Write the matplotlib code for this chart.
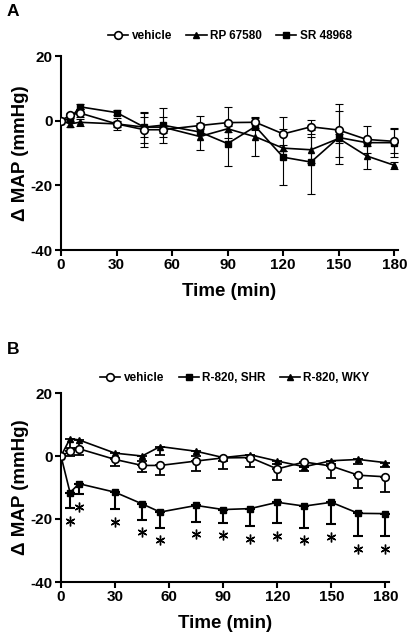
import matplotlib
matplotlib.use("Agg")
import matplotlib.pyplot as plt
import numpy as np

plt.rcParams['font.family'] = ['Liberation Sans', 'DejaVu Sans']
plt.rcParams['font.weight'] = 'bold'
plt.rcParams['axes.unicode_minus'] = False

time = [0, 5, 10, 30, 45, 55, 75, 90, 105, 120, 135, 150, 165, 180]
xticks = [0, 30, 60, 90, 120, 150, 180]
yticks = [20, 0, -20, -40]

# Panel A
a_vehicle = [0, 1.7, 2.4, -1.0, -2.8, -2.8, -1.5, -0.6, -0.5, -4.1, -1.9, -2.9, -5.8, -6.4]
a_vehicle_err = [0, 0.8, 1.2, 1.8, 5.2, 1.0, 2.9, 4.7, 1.7, 5.2, 2.2, 8.2, 4.3, 3.7]
a_rp = [0, -1.0, -0.5, -1.0, -2.0, -2.0, -4.9, -2.5, -5.0, -8.5, -9.0, -5.5, -10.9, -13.8]
a_rp_err = [0, 1.0, 1.0, 1.0, 3.0, 3.2, 4.1, 1.0, 5.8, 1.0, 4.0, 1.5, 4.1, 1.0]
a_sr = [0, 0.5, 4.3, 2.5, -2.0, -1.4, -3.5, -7.1, -1.8, -11.3, -12.8, -5.2, -6.8, -6.8]
a_sr_err = [0, 0.8, 0.8, 0.8, 4.8, 5.4, 1.0, 6.8, 1.0, 8.6, 9.8, 8.1, 1.0, 4.4]

# Panel B
b_vehicle = [0, 1.5, 2.3, -1.1, -3.0, -3.0, -1.6, -0.6, -0.5, -4.1, -1.9, -3.2, -6.1, -6.6]
b_vehicle_err = [0, 1.5, 2.0, 2.0, 2.2, 3.0, 3.3, 3.4, 3.0, 3.6, 1.5, 3.8, 4.1, 4.8]
b_shr = [0, -11.6, -8.8, -11.5, -15.2, -17.8, -15.7, -17.0, -16.7, -14.7, -15.9, -14.7, -18.2, -18.3]
b_shr_err = [0, 5.0, 3.4, 5.4, 5.0, 5.0, 5.2, 4.2, 5.6, 6.7, 6.9, 6.9, 7.2, 7.1]
b_wky = [0, 5.5, 5.1, 0.9, 0.0, 3.0, 1.5, -0.5, 0.4, -1.6, -3.4, -1.5, -1.1, -2.1]
b_wky_err = [0, 3.0, 2.5, 1.5, 1.5, 2.7, 1.5, 1.0, 1.0, 1.0, 1.5, 1.0, 1.5, 1.5]
star_times = [5, 10, 30, 45, 55, 75, 90, 105, 120, 135, 150, 165, 180]

W, H = 411, 640
fig = plt.figure(figsize=(W / 100, H / 100), dpi=100)

def px_axes(l, r, t, b):
    return fig.add_axes([l / W, 1 - b / H, (r - l) / W, (b - t) / H])

axA = px_axes(61, 398, 56, 250)
axB = px_axes(61, 389, 393, 582)

def style(ax):
    ax.set_xlim(0, 182)
    ax.set_ylim(-40, 20)
    ax.set_xticks(xticks)
    ax.set_yticks(yticks)
    ax.spines['top'].set_visible(False)
    ax.spines['right'].set_visible(False)
    for s in ('left', 'bottom'):
        ax.spines[s].set_linewidth(1.5)
    ax.tick_params(direction='out', length=4, width=1.5, labelsize=11, pad=2)
    for lab in ax.get_xticklabels() + ax.get_yticklabels():
        lab.set_fontweight('bold')
    ax.set_xlabel('Time (min)', fontsize=13.5, fontweight='bold', labelpad=8)
    ax.set_ylabel('Δ MAP (mmHg)', fontsize=13.5, fontweight='bold', labelpad=1)
    ax.patch.set_alpha(0)

style(axA)
style(axB)

lw = 1.2
# Panel A
axA.errorbar(time, a_sr, yerr=a_sr_err, fmt='none', ecolor='black', elinewidth=0.8, capsize=3, capthick=0.8, zorder=2)
axA.errorbar(time, a_rp, yerr=a_rp_err, fmt='none', ecolor='black', elinewidth=0.8, capsize=3, capthick=0.8, zorder=2)
axA.errorbar(time, a_vehicle, yerr=a_vehicle_err, fmt='none', ecolor='black', elinewidth=0.8, capsize=3, capthick=0.8, zorder=2)
lA1, = axA.plot(time, a_vehicle, '-', color='black', lw=lw, marker='o', ms=5.5, mfc='white', mec='black', mew=1.2, zorder=5, label='vehicle')
lA2, = axA.plot(time, a_rp, '-', color='black', lw=lw, marker='^', ms=4.5, mfc='black', mec='black', zorder=4, label='RP 67580')
lA3, = axA.plot(time, a_sr, '-', color='black', lw=lw, marker='s', ms=4.5, mfc='black', mec='black', zorder=4, label='SR 48968')
fig.legend(handles=[lA1, lA2, lA3], loc='center', bbox_to_anchor=(230 / W, 1 - 36 / H), ncol=3,
           frameon=False, handlelength=1.7, handletextpad=0.3, columnspacing=1.2,
           prop={'weight': 'bold', 'size': 8.5})

# Panel B
lower = lambda err: [np.array(err), np.zeros(len(err))]
axB.errorbar(time, b_shr, yerr=lower(b_shr_err), fmt='none', ecolor='black', elinewidth=1.5, capsize=3.5, capthick=1.5, zorder=2)
axB.errorbar(time, b_vehicle, yerr=lower(b_vehicle_err), fmt='none', ecolor='black', elinewidth=1.3, capsize=3.5, capthick=1.3, zorder=2)
axB.errorbar(time, b_wky, yerr=lower(b_wky_err), fmt='none', ecolor='black', elinewidth=1.3, capsize=3.5, capthick=1.3, zorder=2)
lB1, = axB.plot(time, b_vehicle, '-', color='black', lw=lw, marker='o', ms=5.5, mfc='white', mec='black', mew=1.2, zorder=5, label='vehicle')
lB2, = axB.plot(time, b_shr, '-', color='black', lw=lw, marker='s', ms=4.5, mfc='black', mec='black', zorder=4, label='R-820, SHR')
lB3, = axB.plot(time, b_wky, '-', color='black', lw=lw, marker='^', ms=4.5, mfc='black', mec='black', zorder=4, label='R-820, WKY')
fig.legend(handles=[lB1, lB2, lB3], loc='center', bbox_to_anchor=(235 / W, 1 - 378 / H), ncol=3,
           frameon=False, handlelength=1.7, handletextpad=0.3, columnspacing=1.2,
           prop={'weight': 'bold', 'size': 8.5})

shr_map = dict(zip(time, zip(b_shr, b_shr_err)))
star_y = [shr_map[t][0] - shr_map[t][1] - 4.0 for t in star_times]
axB.plot(star_times, star_y, linestyle='none', marker=(6, 2, 0), ms=7, mew=1.0, color='black', zorder=6)

fig.text(7 / W, 1 - 12 / H, 'A', fontsize=12.5, fontweight='bold', va='center', ha='left')
fig.text(7 / W, 1 - 350 / H, 'B', fontsize=12.5, fontweight='bold', va='center', ha='left')

fig.savefig('out.png', dpi=100)
